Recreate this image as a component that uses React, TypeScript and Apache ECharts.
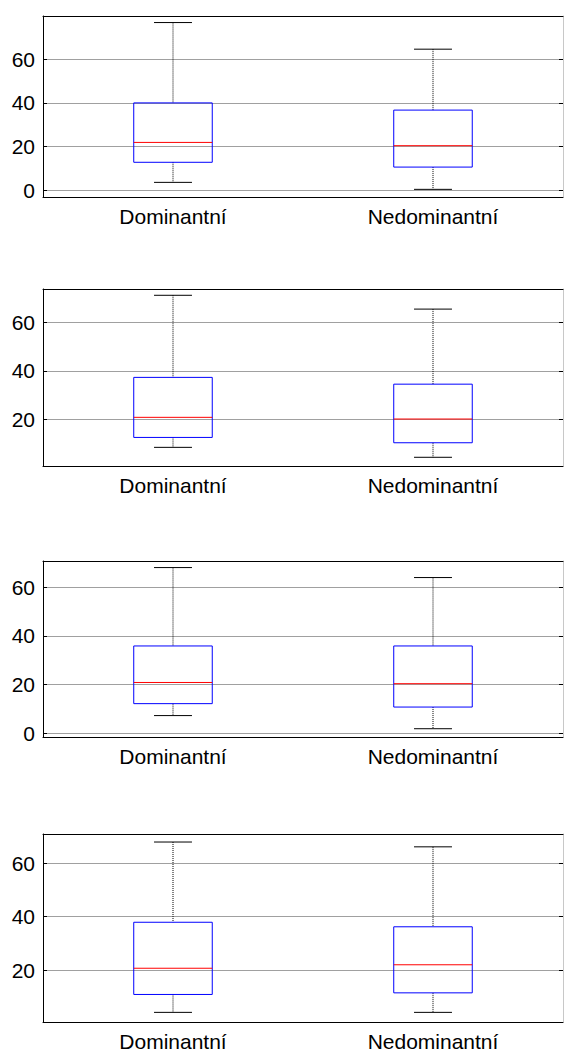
import React, { useEffect, useRef } from "react";
import * as echarts from "echarts";

const categories = ["Dominantní", "Nedominantní"];

// [min, Q1, median, Q3, max] per category, per panel
const panel1Dom = [3.6, 12.8, 21.9, 40.0, 76.8];
const panel1Nedom = [0.4, 10.6, 20.4, 36.7, 64.6];
const panel2Dom = [8.4, 12.5, 20.8, 37.3, 71.2];
const panel2Nedom = [4.3, 10.3, 20.1, 34.5, 65.5];
const panel3Dom = [7.3, 12.2, 20.9, 35.9, 68.1];
const panel3Nedom = [1.9, 10.8, 20.4, 35.9, 64.0];
const panel4Dom = [4.2, 10.9, 20.7, 37.9, 67.9];
const panel4Nedom = [4.2, 11.5, 22.0, 36.2, 66.1];

const yMins = [-3.1, 0.7, -1.5, 0.6];
const yMaxs = [79.8, 73.8, 70.8, 70.9];

const panels = [
  [panel1Dom, panel1Nedom],
  [panel2Dom, panel2Nedom],
  [panel3Dom, panel3Nedom],
  [panel4Dom, panel4Nedom],
];

const FONT = "'Liberation Sans', Arial, sans-serif";

export default function App() {
  const ref = useRef<HTMLDivElement>(null);

  useEffect(() => {
    if (!ref.current) return;
    const chart = echarts.init(ref.current, undefined, { renderer: "svg" });

    const gridBoxes = [
      { top: 16, height: 181 },
      { top: 289, height: 177 },
      { top: 561, height: 176 },
      { top: 834, height: 191 },
    ];

    const grid = gridBoxes.map((g) => ({
      left: 43,
      width: 520,
      top: g.top,
      height: g.height,
      containLabel: false,
    }));

    const xAxis: any[] = [];
    const yAxis: any[] = [];
    const series: any[] = [];

    gridBoxes.forEach((_, i) => {
      xAxis.push({
        type: "category",
        gridIndex: i,
        data: categories,
        position: "bottom",
        boundaryGap: true,
        axisLine: { show: true, onZero: false, lineStyle: { color: "#000", width: 1 } },
        axisTick: { show: false },
        axisLabel: { color: "#000", fontSize: 21, fontFamily: FONT, margin: 9 },
        splitLine: { show: false },
      });
      xAxis.push({
        type: "category",
        gridIndex: i,
        data: categories,
        position: "top",
        boundaryGap: true,
        axisLine: { show: true, onZero: false, lineStyle: { color: "#000", width: 1 } },
        axisTick: { show: false },
        axisLabel: { show: false },
        splitLine: { show: false },
      });
      yAxis.push({
        type: "value",
        gridIndex: i,
        position: "left",
        min: yMins[i],
        max: yMaxs[i],
        splitNumber: 4,
        axisLine: { show: true, onZero: false, lineStyle: { color: "#000", width: 1 } },
        axisTick: { show: true, inside: true, length: 4, lineStyle: { color: "#000" } },
        axisLabel: {
          color: "#000",
          fontSize: 21,
          fontFamily: FONT,
          margin: 8,
          showMinLabel: false,
          showMaxLabel: false,
          formatter: (v: number) => (Math.abs(v % 20) < 1e-9 ? String(v) : ""),
        },
        splitLine: { show: true, lineStyle: { color: "#a0a0a0", width: 1 } },
      });
      yAxis.push({
        type: "value",
        gridIndex: i,
        position: "right",
        min: yMins[i],
        max: yMaxs[i],
        splitNumber: 4,
        axisLine: { show: true, onZero: false, lineStyle: { color: "#c8c8c8", width: 1 } },
        axisTick: { show: true, inside: true, length: 4, lineStyle: { color: "#000" } },
        axisLabel: { show: false },
        splitLine: { show: false },
      });

      const data = panels[i].map((d, ci) => [ci, ...d]);

      series.push({
        type: "custom",
        xAxisIndex: i * 2,
        yAxisIndex: i * 2,
        encode: { x: 0, y: [1, 2, 3, 4, 5] },
        data,
        renderItem: (params: any, api: any) => {
          const c = api.value(0);
          const lo = api.coord([c, api.value(1)]);
          const q1 = api.coord([c, api.value(2)]);
          const med = api.coord([c, api.value(3)]);
          const q3 = api.coord([c, api.value(4)]);
          const hi = api.coord([c, api.value(5)]);
          const band = api.size([1, 0])[0];
          const bw = band * 0.302;
          const cw = band * 0.146;
          const cx = lo[0];
          const dotted = { stroke: "#000", lineWidth: 1, lineDash: [1, 1], fill: null };
          const solid = { stroke: "#000", lineWidth: 1, fill: null };
          return {
            type: "group",
            children: [
              { type: "line", shape: { x1: cx, y1: hi[1], x2: cx, y2: q3[1] }, style: dotted },
              { type: "line", shape: { x1: cx, y1: q1[1], x2: cx, y2: lo[1] }, style: dotted },
              { type: "line", shape: { x1: cx - cw / 2, y1: hi[1], x2: cx + cw / 2, y2: hi[1] }, style: solid },
              { type: "line", shape: { x1: cx - cw / 2, y1: lo[1], x2: cx + cw / 2, y2: lo[1] }, style: solid },
              {
                type: "rect",
                shape: { x: cx - bw / 2, y: q3[1], width: bw, height: q1[1] - q3[1] },
                style: { stroke: "#0000ff", lineWidth: 1, fill: "rgba(0,0,0,0)" },
              },
              {
                type: "line",
                shape: { x1: cx - bw / 2, y1: med[1], x2: cx + bw / 2, y2: med[1] },
                style: { stroke: "#ff0000", lineWidth: 1 },
              },
            ],
          };
        },
      });
    });

    chart.setOption({
      animation: false,
      backgroundColor: "#fff",
      grid,
      xAxis,
      yAxis,
      series,
    });

    return () => chart.dispose();
  }, []);

  return (
    <div
      ref={ref}
      style={{ position: "absolute", left: 0, top: 0, width: 564, height: 1052, background: "#fff" }}
    />
  );
}
